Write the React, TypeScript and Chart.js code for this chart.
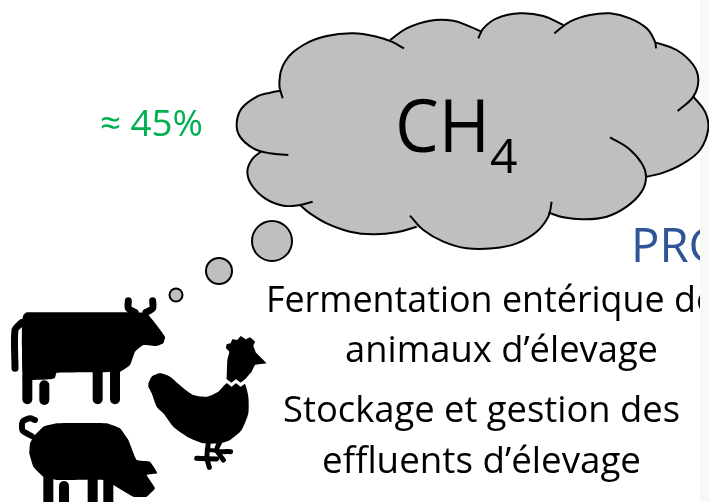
import React, { useEffect, useRef } from "react";
import { Chart, registerables } from "chart.js";

Chart.register(...registerables);

type P = [number, number];

// Outlines (crop units, converted below)
const lobes: P[][] = [
  [[188,295],[178,250],[195,185],[250,135],[320,108],[400,100],[470,110],[515,125],[552,145]],
  [[510,120],[560,85],[630,62],[700,62],[750,80],[785,95]],
  [[775,115],[790,85],[830,55],[900,40],[970,48],[1030,75]],
  [[1003,100],[1050,65],[1110,45],[1170,40],[1230,55],[1280,85],[1305,125],[1308,145]],
  [[1308,128],[1370,150],[1420,195],[1435,240],[1420,290],[1373,333]],
  [[1420,290],[1455,335],[1465,385],[1440,450],[1390,490],[1330,518],[1280,530]],
  [[1170,412],[1225,445],[1265,490],[1278,530],[1265,575],[1220,620],[1160,650],[1090,658],[1030,652],[985,638]],
  [[995,605],[985,650],[950,695],[890,730],[820,745],[740,745],[670,725],[610,690],[570,647]],
  [[590,680],[530,697],[460,703],[390,695],[320,670],[270,640],[240,615]],
  [[278,605],[240,615],[190,617],[135,595],[95,555],[82,515],[95,480],[122,455]],
  [[205,465],[150,460],[100,445],[60,410],[50,370],[65,325],[110,290],[150,278],[183,272]],
];
const cloudCore: P[] = [
  [183,272],[178,250],[195,185],[250,135],[320,108],[400,100],[470,110],[510,120],
  [560,85],[630,62],[700,62],[750,80],[785,95],
  [790,85],[830,55],[900,40],[970,48],[1025,78],
  [1050,65],[1110,45],[1170,40],[1230,55],[1280,85],[1305,125],
  [1370,150],[1420,195],[1435,240],[1420,290],
  [1455,335],[1465,385],[1440,450],[1390,490],[1330,518],[1280,530],
  [1265,575],[1220,620],[1160,650],[1090,658],[1030,652],[985,638],
  [950,695],[890,730],[820,745],[740,745],[670,725],[610,690],[590,680],
  [530,697],[460,703],[390,695],[320,670],[270,640],[240,615],
  [190,617],[135,595],[95,555],[82,515],[95,480],[122,455],
  [100,445],[60,410],[50,370],[65,325],[110,290],[150,278],
];

const bubbles: { x: number; y: number; r: number }[] = [
  { x: 272, y: 241, r: 20 },
  { x: 219, y: 271, r: 13 },
  { x: 176, y: 295, r: 6.5 },
];

const cowBody: P[] = [[70,105],[80,97],[375,97],[440,100],[495,170],[490,190],[470,198],[430,195],[405,215],[390,255],[360,275],[170,278],[165,293],[150,298],[70,298],[66,200],[66,120]];
const henHead: P[] = [[680,298],[682,240],[688,215],[678,205],[680,193],[692,190],[697,178],[712,180],[722,168],[738,178],[750,172],[765,185],[760,197],[768,218],[800,250],[765,255],[755,275],[735,298],[722,308],[708,298],[695,308]];
const henBody: P[] = [[445,310],[455,290],[480,280],[510,290],[545,320],[580,345],[620,350],[655,335],[680,310],[695,320],[708,310],[722,320],[735,312],[745,350],[745,400],[725,450],[690,480],[660,490],[610,490],[570,475],[520,440],[490,400],[470,380],[455,340],[445,320]];
const pigBody: P[] = [[100,470],[130,440],[170,430],[320,430],[360,445],[385,480],[410,540],[450,545],[472,580],[440,585],[465,625],[440,650],[400,650],[340,615],[310,600],[175,600],[130,590],[100,560],[88,520],[90,490]];

const shapeList: { pts: P[]; bend: number }[] = [
  { pts: cowBody, bend: 0.1 },
  { pts: henHead, bend: 0.05 },
  { pts: henBody, bend: 0.2 },
  { pts: pigBody, bend: 0.1 },
];

const thickStrokes: { pts: P[]; w: number }[] = [
  { pts: [[45,265],[45,150],[65,128]], w: 7 },
  { pts: [[385,62],[385,85],[405,97]], w: 7 },
  { pts: [[458,62],[458,85],[438,97]], w: 7 },
  { pts: [[82,290],[82,358]], w: 10 },
  { pts: [[133,316],[133,360]], w: 10 },
  { pts: [[293,270],[293,358]], w: 10 },
  { pts: [[345,270],[345,358]], w: 10 },
  { pts: [[625,485],[620,535]], w: 5 },
  { pts: [[590,535],[650,537]], w: 5 },
  { pts: [[620,535],[628,562]], w: 5 },
  { pts: [[660,485],[650,512],[692,515]], w: 5 },
  { pts: [[650,512],[670,540]], w: 5 },
  { pts: [[620,510],[650,512]], w: 4 },
  { pts: [[95,468],[68,452],[68,425],[90,415],[105,420]], w: 6 },
  { pts: [[145,590],[145,680]], w: 10 },
  { pts: [[192,618],[192,680]], w: 10 },
  { pts: [[278,595],[278,680]], w: 10 },
  { pts: [[325,600],[325,680]], w: 10 },
];

const panel: P[] = [[700,0],[709,0],[709,502],[700,502]];

const underLabels: { t: string; x: number; y: number; w: number; size: number; color: string }[] = [
  { t: "≈ 45%", x: 100, y: 136, w: 103, size: 37, color: "#00b050" },
  { t: "PRG", x: 631, y: 262, w: 92, size: 48, color: "#2f5597" },
  { t: "Fermentation entérique de", x: 266, y: 312, w: 450, size: 37, color: "#000000" },
  { t: "animaux d’élevage", x: 345, y: 362, w: 313, size: 37, color: "#000000" },
  { t: "Stockage et gestion des", x: 283, y: 422, w: 397, size: 37, color: "#000000" },
  { t: "effluents d’élevage", x: 322, y: 473, w: 319, size: 37, color: "#000000" },
];
const overLabels: { t: string; x: number; y: number; w: number; size: number; color: string }[] = [
  { t: "CH", x: 395, y: 152, w: 95, size: 73, color: "#000000" },
  { t: "4", x: 490, y: 173, w: 28, size: 48, color: "#000000" },
];

const cloudPts = (a: P[]) => a.map(([x, y]) => ({ x: 220 + x / 3, y: y / 3 }));
const animalPts = (a: P[]) => a.map(([x, y]) => ({ x: x / 3, y: 280 + y / 3 }));
const rawPts = (a: P[]) => a.map(([x, y]) => ({ x, y }));

const FONT = '"Open Sans", sans-serif';
// Chart.js insets the plot by the largest point's radius plus border
const INSET = 22;

const drawLabels = (chart: any, list: typeof underLabels) => {
  const { ctx, scales } = chart;
  ctx.save();
  ctx.textAlign = "left";
  ctx.textBaseline = "alphabetic";
  for (const l of list) {
    ctx.font = `${l.size}px ${FONT}`;
    ctx.fillStyle = l.color;
    ctx.fillText(l.t, scales.x.getPixelForValue(l.x), scales.y.getPixelForValue(l.y), l.w);
  }
  ctx.restore();
};

const labelPlugin = {
  id: "labels",
  beforeDraw(chart: any) {
    drawLabels(chart, underLabels);
  },
  afterDatasetsDraw(chart: any) {
    drawLabels(chart, overLabels);
  },
};

const GREY = "#bfbfbf";

export default function App() {
  const ref = useRef<HTMLCanvasElement>(null);
  useEffect(() => {
    const base = { showLine: true, pointRadius: 0 };
    const datasets: any[] = [
      ...lobes.map((l) => ({
        ...base,
        data: cloudPts(l),
        tension: 0.4,
        borderColor: "#000000",
        borderWidth: 2,
        backgroundColor: GREY,
        fill: "shape",
      })),
      {
        showLine: false,
        data: bubbles.map((b) => ({ x: b.x, y: b.y })),
        pointRadius: bubbles.map((b) => b.r),
        pointBackgroundColor: GREY,
        pointBorderColor: "#000000",
        pointBorderWidth: 2,
      },
      ...thickStrokes.map((s) => ({
        ...base,
        data: animalPts(s.pts),
        tension: 0.25,
        borderColor: "#000000",
        borderWidth: s.w,
        borderCapStyle: "round",
        borderJoinStyle: "round",
      })),
      ...shapeList.map((a) => ({
        ...base,
        data: animalPts(a.pts),
        tension: a.bend,
        borderWidth: 0,
        backgroundColor: "#000000",
        fill: "shape",
      })),
      {
        ...base,
        data: cloudPts(cloudCore),
        tension: 0,
        borderWidth: 0,
        backgroundColor: GREY,
        fill: "shape",
      },
      {
        ...base,
        data: rawPts(panel),
        tension: 0,
        borderWidth: 0,
        backgroundColor: "#f6faf3",
        fill: "shape",
      },
    ];
    const chart = new Chart(ref.current!, {
      type: "scatter",
      data: { datasets },
      options: {
        animation: false,
        responsive: false,
        events: [],
        clip: false,
        layout: { padding: 0 },
        scales: {
          x: { type: "linear", min: 0, max: 709, display: false },
          y: { type: "linear", min: 0, max: 502, reverse: true, display: false },
        },
        plugins: {
          legend: { display: false },
          tooltip: { enabled: false },
          filler: { drawTime: "beforeDatasetsDraw" },
        },
      } as any,
      plugins: [labelPlugin],
    });
    return () => chart.destroy();
  }, []);
  return (
    <div style={{ position: "absolute", left: 0, top: 0, width: 709, height: 502, overflow: "hidden", background: "#ffffff" }}>
      <canvas
        ref={ref}
        width={709 + 2 * INSET}
        height={502 + 2 * INSET}
        style={{ display: "block", position: "absolute", left: -INSET, top: -INSET }}
      />
    </div>
  );
}
